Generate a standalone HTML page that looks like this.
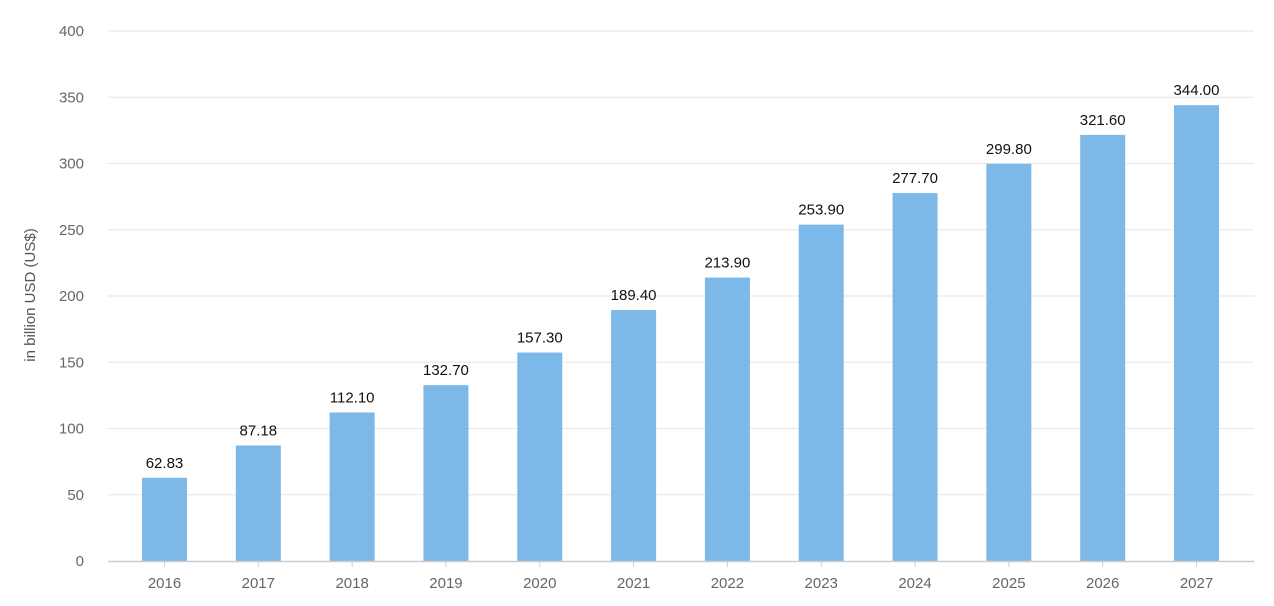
<!DOCTYPE html>
<html><head><meta charset="utf-8"><style>
html,body{margin:0;padding:0;background:#fff;}
svg{display:block;font-family:"Liberation Sans","DejaVu Sans",sans-serif;}
</style></head><body>
<svg id="chart" width="1274" height="606">
<text transform="translate(35,295) rotate(-90)" text-anchor="middle" font-size="15" fill="#555">in billion USD (US$)</text>
<g id="grid"></g>
<g id="yticks"></g>
<g id="bars"></g>
<g id="xticks"></g>
</svg>
<script>
const categories = ["2016","2017","2018","2019","2020","2021","2022","2023","2024","2025","2026","2027"];
const values = [62.83,87.18,112.10,132.70,157.30,189.40,213.90,253.90,277.70,299.80,321.60,344.00];
const valueLabels = ["62.83","87.18","112.10","132.70","157.30","189.40","213.90","253.90","277.70","299.80","321.60","344.00"];
const yTicks = [0,50,100,150,200,250,300,350,400];

const NS = "http://www.w3.org/2000/svg";
const plotL = 108, plotR = 1254, y0 = 561, yTop = 31, yMax = 400;
const y = v => y0 - (v / yMax) * (y0 - yTop);
const firstC = 164.5, lastC = 1196.5;
const step = (lastC - firstC) / (categories.length - 1);
const x = i => firstC + i * step;
const bw = 45;
function mk(tag, attrs, parent, text){
  const e = document.createElementNS(NS, tag);
  for (const k in attrs) e.setAttribute(k, attrs[k]);
  if (text !== undefined) e.textContent = text;
  parent.appendChild(e); return e;
}
const grid = document.getElementById('grid'), yt = document.getElementById('yticks');
yTicks.forEach(t => {
  if (t !== 0) {
    const l = mk('line', {x1: plotL, x2: plotR, y1: y(t), y2: y(t), stroke: '#e6e6e6', 'stroke-width': 1}, grid);
    
    
  }
  const tx = mk('text', {x: 84, y: y(t) + 5, 'text-anchor': 'end', 'font-size': 15, fill: '#666'}, yt, String(t));
  
  
});
const bars = document.getElementById('bars'), xt = document.getElementById('xticks');
values.forEach((v, i) => {
  const r = mk('rect', {x: x(i) - bw / 2, y: y(v), width: bw, height: y0 - y(v), fill: '#7cb8e8'}, bars);
  
  
  const lb = mk('text', {x: x(i), y: y(v) - 10, 'text-anchor': 'middle', 'font-size': 15, fill: '#111'}, bars, valueLabels[i]);
  
  
  const tk = mk('line', {x1: x(i), x2: x(i), y1: y0, y2: y0 + 6, stroke: '#ccc'}, xt);
  
  
  const xl = mk('text', {x: x(i), y: 588, 'text-anchor': 'middle', 'font-size': 15, fill: '#666'}, xt, categories[i]);
  
  
});
const ax = mk('line', {x1: plotL, x2: plotR, y1: y0 + 0.5, y2: y0 + 0.5, stroke: '#ccc', 'stroke-width': 1.5}, xt);


</script>
</body></html>
